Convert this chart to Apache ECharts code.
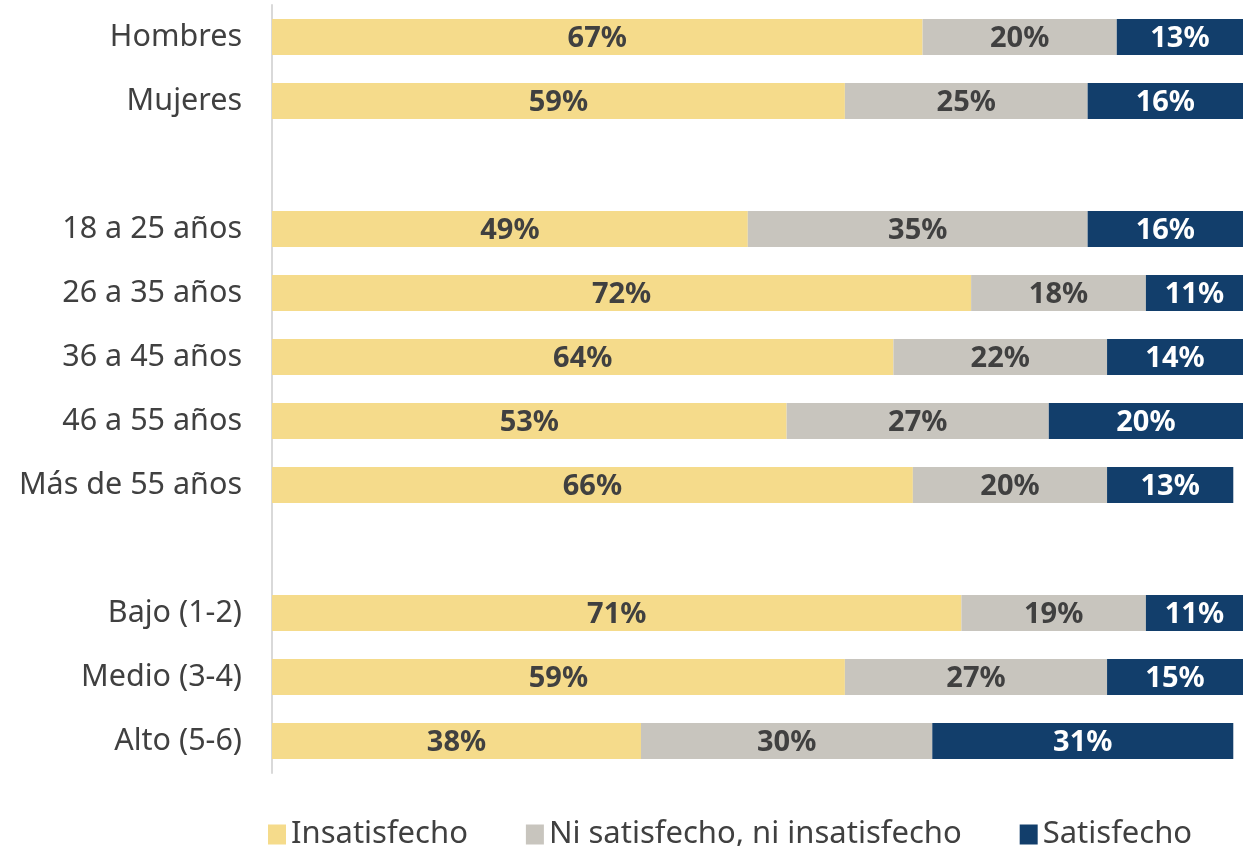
<!DOCTYPE html>
<html>
<head>
<meta charset="utf-8">
<script src="https://cdn.jsdelivr.net/npm/echarts@6/dist/echarts.min.js"></script>
<style>html,body{margin:0;padding:0;background:#fff;}#c{width:1251px;height:846px;}</style>
</head>
<body>
<div id="c"></div>
<script>
const categories = ['Hombres','Mujeres',' ','18 a 25 años','26 a 35 años','36 a 45 años','46 a 55 años','Más de 55 años','  ','Bajo (1-2)','Medio (3-4)','Alto (5-6)'];
const insatisfecho = [67, 59, null, 49, 72, 64, 53, 66, null, 71, 59, 38];
const neutral      = [20, 25, null, 35, 18, 22, 27, 20, null, 19, 27, 30];
const satisfecho   = [13, 16, null, 16, 11, 14, 20, 13, null, 11, 15, 31];
const seriesNames = ['Insatisfecho','Ni satisfecho, ni insatisfecho','Satisfecho'];
const colors = ['#F5DB8B','#C8C5BE','#123E6B'];
const labelColors = ['#404040','#404040','#FFFFFF'];
const FONT = '"Noto Sans", "Open Sans", sans-serif';

const chart = echarts.init(document.getElementById('c'));
const mk = (name, data, i) => ({
  name, type: 'bar', stack: 'total', data, barWidth: 36, clip: true,
  itemStyle: { color: colors[i] },
  label: { show: true, position: 'inside', formatter: '{c}%', color: labelColors[i],
           fontFamily: FONT, fontWeight: 'bold', fontSize: 29, offset: [0, 2] },
  emphasis: { disabled: true }
});
chart.setOption({
  animation: false,
  textStyle: { fontFamily: FONT },
  grid: { left: 272, right: 8, top: 5, bottom: 73, containLabel: false },
  xAxis: { type: 'value', min: 0, max: 100, show: false },
  yAxis: {
    type: 'category', data: categories, inverse: true,
    axisLine: { show: true, lineStyle: { color: '#D9D9D9', width: 2 } },
    axisTick: { show: false },
    axisLabel: { color: '#404040', fontSize: 30.5, margin: 30, fontFamily: FONT, padding: [6, 0, 0, 0] }
  },
  legend: {
    data: seriesNames, left: 268, top: 819, padding: 0, icon: 'rect', itemWidth: 18, itemHeight: 20,
    itemGap: 58, textStyle: { color: '#404040', fontSize: 31, fontFamily: FONT }
  },
  series: [mk(seriesNames[0], insatisfecho, 0), mk(seriesNames[1], neutral, 1), mk(seriesNames[2], satisfecho, 2)]
});
</script>
</body>
</html>
